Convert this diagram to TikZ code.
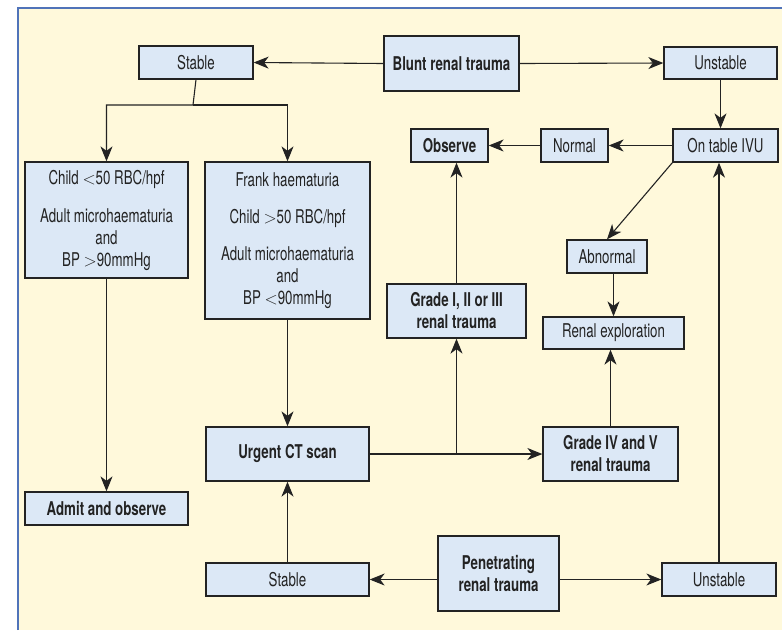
\documentclass[tikz,border=0pt]{standalone}
\usepackage{fontspec}
\setmainfont{TeX Gyre Heros}[FakeStretch=0.7]
\usetikzlibrary{arrows.meta}
\definecolor{boxblue}{RGB}{220,232,246}
\definecolor{bgyellow}{RGB}{255,249,219}
\definecolor{frameblue}{RGB}{80,115,185}
\definecolor{inkgrey}{RGB}{35,35,35}
\begin{document}
\begin{tikzpicture}[
    x=1pt, y=-1pt,
    box/.style={draw=inkgrey, fill=boxblue, line width=1.3pt, rectangle, align=center,
        text=inkgrey, font=\fontsize{19}{22}\selectfont},
    mainbox/.style={box, font=\fontsize{19}{22}\selectfont\bfseries},
    arrow/.style={-{Stealth[length=15pt,width=12pt,inset=4.5pt]}, line width=1.1pt, draw=inkgrey}
]
    \useasboundingbox (0,0) rectangle (782,630);

    % Background panel
    \fill[bgyellow] (18,8) rectangle (782,630);
    \draw[frameblue, line width=1.3pt] (18,630) -- (18,8) -- (782,8);

    % Blunt trauma branch
    \node[mainbox, minimum width=135, minimum height=55] (blunt) at (451.5,63.5) {Blunt renal trauma};
    \node[box, minimum width=114, minimum height=33] (stableT) at (196,62.5) {Stable};
    \node[box, minimum width=113, minimum height=32] (unstableT) at (720.5,63) {Unstable};

    % Stable patients
    \node[box, minimum width=163, minimum height=116] (child) at (106.5,220)
        {Child $<$50 RBC/hpf\\[16pt]Adult microhaematuria\\and\\BP $>$90mmHg};
    \node[box, minimum width=165, minimum height=157] (frank) at (287.5,240.5)
        {Frank haematuria\\[15pt]Child $>$50 RBC/hpf\\[15pt]Adult microhaematuria\\and\\BP $<$90mmHg};
    \node[mainbox, minimum width=163, minimum height=33] (admit) at (106.5,508.5) {Admit and observe};
    \node[mainbox, minimum width=163, minimum height=54] (ct) at (287.5,454) {Urgent CT scan};

    % Unstable patients
    \node[box, minimum width=105, minimum height=33] (ivu) at (725.5,145.5) {On table IVU};
    \node[box, minimum width=67, minimum height=33] (normal) at (574.5,145.5) {Normal};
    \node[mainbox, minimum width=77, minimum height=33] (observe) at (449.5,145.5) {Observe};
    \node[box, minimum width=80, minimum height=33] (abnormal) at (607,256.5) {Abnormal};
    \node[box, minimum width=141, minimum height=32] (explore) at (613.5,333) {Renal exploration};

    % CT grades
    \node[mainbox, minimum width=139, minimum height=54] (gradeA) at (456.5,311) {Grade I, II or III\\renal trauma};
    \node[mainbox, minimum width=135, minimum height=54] (gradeB) at (610.5,454) {Grade IV and V\\renal trauma};

    % Penetrating trauma branch
    \node[mainbox, minimum width=121, minimum height=75] (penetr) at (498.5,573.5) {Penetrating\\renal trauma};
    \node[box, minimum width=163, minimum height=33] (stableB) at (287.5,579.5) {Stable};
    \node[box, minimum width=114, minimum height=33] (unstableB) at (719,579.5) {Unstable};

    \coordinate (split) at (193,105);

    % Arrows
    \draw[arrow] (blunt.west) -- (stableT.east);
    \draw[arrow] (blunt.east) -- (unstableT.west);
    \draw[arrow] (stableT.south) -- (split) -| (child.north);
    \draw[arrow] (split) -| (frank.north);
    \draw[arrow] (child.south) -- (admit.north);
    \draw[arrow] (frank.south) -- (ct.north);
    \draw[arrow] (unstableT.south) -- (unstableT.south |- ivu.north);
    \draw[arrow] (ivu.west) -- (normal.east);
    \draw[arrow] (normal.west) -- (observe.east);
    \draw[arrow] (ivu.south west) -- (abnormal.north);
    \draw[arrow] (abnormal.south -| explore.north) -- (explore.north);
    \draw[arrow] (gradeB.north) -- (gradeB.north |- explore.south);
    \draw[arrow] (gradeA.north) -- (gradeA.north |- observe.south);
    \draw[arrow] (ct.east) -- (gradeB.west);
    \draw[arrow] (ct.east -| gradeA.south) -- (gradeA.south);
    \draw[arrow] (stableB.north) -- (ct.south);
    \draw[arrow] (penetr.west |- stableB.east) -- (stableB.east);
    \draw[arrow] (penetr.east |- unstableB.west) -- (unstableB.west);
    \draw[arrow] (unstableB.north) -- (unstableB.north |- ivu.south);

\end{tikzpicture}
\end{document}
